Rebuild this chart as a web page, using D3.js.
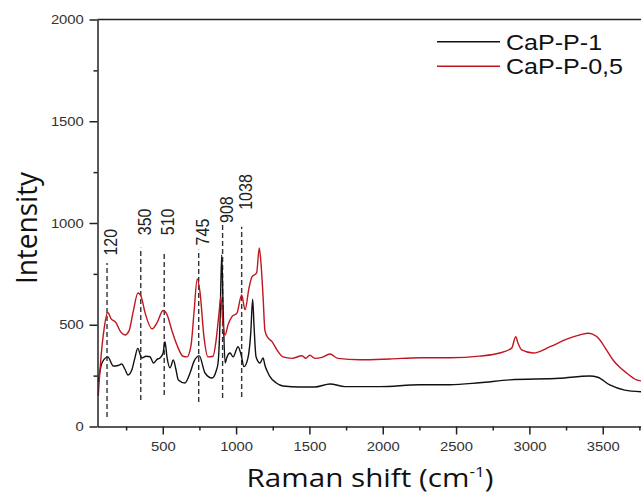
<!DOCTYPE html>
<html>
<head>
<meta charset="utf-8">
<script src="https://cdn.jsdelivr.net/npm/d3@7"></script>
<style>
  body { margin: 0; background: #fff; }
  svg { display: block; }
</style>
</head>
<body>
<svg id="chart" width="641" height="497"></svg>
<script>
// Raman shift (cm-1) and intensity
const shiftRed = [60, 80, 100, 125, 147, 181, 209, 243, 270, 297, 331, 352, 379, 427, 461, 502, 529, 563, 597, 638,
    665, 693, 713, 735, 754, 781, 808, 843, 863, 884, 896, 911, 925, 945, 972, 1006, 1038, 1061, 1088, 1109, 1140,
    1158, 1170, 1184, 1197, 1218, 1245, 1279, 1320, 1381, 1450, 1475, 1503, 1537, 1585, 1640, 1694, 1844, 2048,
    2252, 2457, 2661, 2797, 2879, 2907, 2922, 2948, 3025, 3141, 3254, 3345, 3402, 3427, 3481, 3522, 3570, 3618,
    3663, 3731, 3761];
const valRed = [150, 350, 480, 560, 530, 510, 470, 450, 470, 560, 656, 640, 560, 480, 510, 570, 550, 470, 400, 345,
    342, 400, 560, 725, 660, 440, 342, 345, 420, 560, 636, 500, 450, 500, 540, 557, 646, 573, 680, 736, 755,
    877, 800, 638, 470, 435, 417, 376, 342, 335, 348, 335, 350, 335, 340, 356, 335, 328, 332,
    338, 338, 346, 361, 385, 441, 410, 376, 361, 392, 429, 450, 458, 455, 425, 380, 327, 290,
    263, 229, 224];

const shiftBlack = [60, 80, 100, 125, 163, 195, 220, 243, 263, 290, 311, 329, 357, 386, 413, 436, 461, 481, 502, 515,
    529, 550, 572, 590, 606, 652, 686, 713, 749, 788, 836, 863, 877, 890, 902, 911, 925, 938, 959, 980, 1013,
    1034, 1054, 1081, 1100, 1113, 1122, 1136, 1163, 1184, 1197, 1218, 1231, 1272, 1320, 1436, 1537, 1640, 1743,
    1982, 2252, 2457, 2661, 2866, 3207, 3411, 3466, 3548, 3650, 3761];
const valBlack = [220, 300, 330, 342, 297, 300, 307, 280, 253, 280, 340, 384, 337, 345, 343, 312, 330, 337, 360, 417,
    340, 288, 327, 280, 229, 214, 263, 320, 347, 263, 238, 270, 312, 500, 843, 600, 312, 342, 361, 342, 392,
    353, 294, 337, 460, 625, 500, 343, 312, 337, 300, 263, 245, 215, 199, 194, 194, 209, 196,
    196, 205, 205, 215, 229, 237, 248, 242, 204, 179, 171];

const seriesNames = ["CaP-P-1", "CaP-P-0,5"];
const seriesColors = ["#111111", "#c0161f"];

// marked bands: position, dashed line bottom / top, label start (intensity units)
const bands = [120, 350, 510, 745, 908, 1038];
const bandLow = [47, 130, 155, 120, 140, 145];
const bandHigh = [804, 878, 858, 868, 990, 981];
const bandLabelAt = [840, 940, 940, 890, 1000, 1065];

const xMajor = [500, 1000, 1500, 2000, 2500, 3000, 3500];
const xMinor = [250, 750, 1250, 1750, 2250, 2750, 3250, 3750];
const yMajor = [0, 500, 1000, 1500, 2000];
const yMinor = [250, 750, 1250, 1750];

const svg = d3.select("#chart");
const W = 641;
const mLeft = 97.5, mTop = 19.5, mBottom = 426.5;
const stretch = 1.14; // the picture is a bit wider than tall

let x = d3.scaleLinear().domain([55, 3761]).range([mLeft, W]);
let y = d3.scaleLinear().domain([0, 2000]).range([mBottom, mTop]);

const axisColor = "#222";

// frame top line
svg.append("line")
    .attr("x1", mLeft).attr("x2", W)
    .attr("y1", mTop).attr("y2", mTop)
    .attr("stroke", axisColor).attr("stroke-width", 1.5);

// dashed band markers
svg.append("g").selectAll("line")
    .data(bands)
    .enter().append("line")
    .attr("x1", d => x(d)).attr("x2", d => x(d))
    .attr("y1", (d, i) => y(bandLow[i]))
    .attr("y2", (d, i) => y(bandHigh[i]))
    .attr("stroke", "#333")
    .attr("stroke-width", 1.4)
    .attr("stroke-dasharray", "5,3");

svg.append("g").selectAll("text")
    .data(bands)
    .enter().append("text")
    .attr("transform", (d, i) => "translate(" + (x(d) + 10) + "," + y(bandLabelAt[i]) + ") scale(" + stretch + ",1) rotate(-90)")
    .style("font-family", "'Liberation Sans', Arial, sans-serif")
    .style("font-size", "16px")
    .attr("fill", "#222")
    .text(d => d);

// spectra
let line = d3.line()
    .x(d => x(d[0]))
    .y(d => y(d[1]))
    .curve(d3.curveMonotoneX);

const black = shiftBlack.map((s, i) => [s, valBlack[i]]);
const red = shiftRed.map((s, i) => [s, valRed[i]]);

svg.append("path")
    .datum(black)
    .attr("d", line)
    .attr("fill", "none")
    .attr("stroke", seriesColors[0])
    .attr("stroke-width", 1.4);

svg.append("path")
    .datum(red)
    .attr("d", line)
    .attr("fill", "none")
    .attr("stroke", seriesColors[1])
    .attr("stroke-width", 1.4);

// axes
function styleAxis(g) {
    g.select(".domain").attr("stroke", axisColor).attr("stroke-width", 1.5);
    g.selectAll(".tick line").attr("stroke", axisColor).attr("stroke-width", 1.5);
    g.selectAll(".tick text")
        .attr("fill", "#333")
        .style("font-family", "'Liberation Sans', Arial, sans-serif")
        .style("font-size", "13px");
}

let xAxis = svg.append("g")
    .attr("transform", "translate(0," + mBottom + ")")
    .call(d3.axisBottom(x).tickValues(xMajor).tickFormat(d3.format("d")).tickSize(8).tickPadding(7).tickSizeOuter(0));
styleAxis(xAxis);
xAxis.selectAll(".tick text").attr("transform", "scale(" + stretch + ",1)");

svg.append("g")
    .attr("transform", "translate(0," + mBottom + ")")
    .call(d3.axisBottom(x).tickValues(xMinor).tickSize(4).tickFormat("").tickSizeOuter(0))
    .call(g => { g.select(".domain").remove(); styleAxis(g); });

let yAxis = svg.append("g")
    .attr("transform", "translate(" + mLeft + ",0)")
    .call(d3.axisLeft(y).tickValues(yMajor).tickFormat(d3.format("d")).tickSize(8).tickPadding(4).tickSizeOuter(0));
styleAxis(yAxis);
yAxis.selectAll(".tick text").attr("transform", "scale(" + stretch + ",1)");

svg.append("g")
    .attr("transform", "translate(" + mLeft + ",0)")
    .call(d3.axisLeft(y).tickValues(yMinor).tickSize(4).tickFormat("").tickSizeOuter(0))
    .call(g => { g.select(".domain").remove(); styleAxis(g); });

// axis titles
svg.append("text")
    .attr("transform", "translate(37,228) scale(1.06,1) rotate(-90)")
    .attr("text-anchor", "middle")
    .style("font-family", "'Open Sans', sans-serif")
    .style("font-size", "28px")
    .attr("fill", "#111")
    .text("Intensity");

let xt = svg.append("text")
    .attr("transform", "translate(370,487) scale(" + stretch + ",1)")
    .attr("text-anchor", "middle")
    .style("font-family", "'Open Sans', sans-serif")
    .style("font-size", "26px")
    .attr("fill", "#111");
xt.append("tspan").text("Raman shift (cm");
xt.append("tspan").attr("dy", -10).style("font-size", "15px").text("-1");
xt.append("tspan").attr("dy", 10).text(")");

// legend
let legend = svg.append("g").selectAll("g")
    .data(seriesNames)
    .enter().append("g")
    .attr("transform", (d, i) => "translate(437," + (41.7 + i * 24.5) + ")");

legend.append("line")
    .attr("x1", 0).attr("x2", 63)
    .attr("stroke", (d, i) => seriesColors[i])
    .attr("stroke-width", 1.5);

legend.append("text")
    .attr("transform", "translate(69,8) scale(" + stretch + ",1)")
    .style("font-family", "'Liberation Sans', Arial, sans-serif")
    .style("font-size", "22px")
    .attr("fill", "#111")
    .text(d => d);
</script>
</body>
</html>
